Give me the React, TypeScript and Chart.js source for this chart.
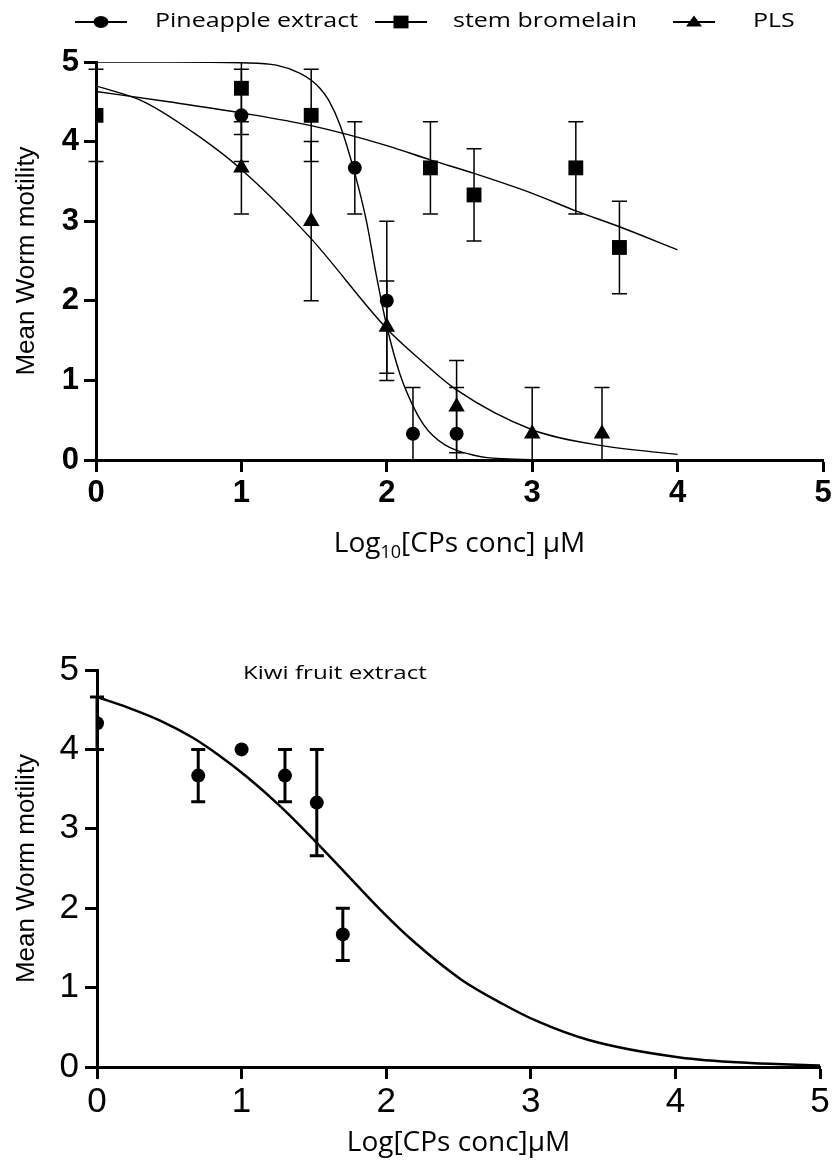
import React, { useEffect, useRef } from 'react';
import { Chart, registerables } from 'chart.js';

Chart.register(...registerables);

// ---------------- Top chart data ----------------
const seriesNames = ['Pineapple extract', 'stem bromelain', 'PLS'];
const xTicks = [0, 1, 2, 3, 4, 5];
const yTicks = [0, 1, 2, 3, 4, 5];

const pineX = [1, 1.78, 2, 2.18, 2.48];
const pineY = [4.33, 3.67, 2.0, 0.33, 0.33];
const pineErr = [0.58, 0.58, 1.0, 0.58, 0.58];

const stemX = [0, 1, 1.48, 2.3, 2.6, 3.3, 3.6];
const stemY = [4.33, 4.67, 4.33, 3.67, 3.33, 3.67, 2.67];
const stemErr = [0.58, 0.58, 0.58, 0.58, 0.58, 0.58, 0.58];

const plsX = [1, 1.48, 2, 2.48, 3, 3.48];
const plsY = [3.67, 3.0, 1.67, 0.67, 0.33, 0.33];
const plsErr = [0.58, 1.0, 0.58, 0.58, 0.58, 0.58];

// fitted curves
const pineCurveX = [0, 0.5, 1, 1.24, 1.4, 1.48, 1.54, 1.6, 1.68, 1.78, 1.86, 1.93, 2.0, 2.09, 2.18, 2.25, 2.32, 2.4, 2.48, 2.6, 2.69, 2.8, 3, 3.5, 4];
const pineCurveY = [5, 5, 4.99, 4.96, 4.86, 4.77, 4.67, 4.52, 4.2, 3.6, 3.0, 2.3, 1.68, 1.08, 0.68, 0.45, 0.3, 0.19, 0.12, 0.06, 0.03, 0.015, 0.005, 0, 0];

const stemCurveX = [0, 0.5, 1, 1.48, 2, 2.3, 2.6, 3, 3.3, 3.6, 4];
const stemCurveY = [4.63, 4.5, 4.36, 4.2, 3.95, 3.77, 3.6, 3.35, 3.13, 2.93, 2.64];

const plsCurveX = [0, 0.33, 0.72, 1, 1.47, 2, 2.23, 2.48, 3, 3.48, 4];
const plsCurveY = [4.7, 4.5, 4.05, 3.65, 2.8, 1.65, 1.26, 0.88, 0.38, 0.18, 0.07];

// ---------------- Bottom chart data ----------------
const kiwiName = 'Kiwi fruit extract';
const kiwiX = [0, 0.7, 1.0, 1.3, 1.52, 1.7];
const kiwiY = [4.33, 3.67, 4.0, 3.67, 3.33, 1.67];
const kiwiErr = [0.33, 0.33, 0, 0.33, 0.67, 0.33];

const kiwiCurveX = [0, 0.21, 0.44, 0.66, 0.84, 1.04, 1.27, 1.49, 1.73, 1.96, 2.19, 2.52, 2.8, 3.04, 3.4, 4.03, 4.52, 5];
const kiwiCurveY = [4.66, 4.53, 4.36, 4.15, 3.93, 3.65, 3.28, 2.88, 2.42, 1.98, 1.58, 1.1, 0.8, 0.58, 0.34, 0.12, 0.05, 0.02];

const yTitle = 'Mean Worm motility';
const topXTitleParts = ['Log', '10', '[CPs conc] \u03BCM'];
const bottomXTitle = 'Log[CPs conc]\u03BCM';

type ErrSet = { xs: number[]; ys: number[]; errs: number[] };

function toPts(xs: number[], ys: number[]) {
  return xs.map((x, i) => ({ x, y: ys[i] }));
}

function errorBars(sets: ErrSet[], lw: number, cap: number) {
  return {
    id: 'errbars',
    afterDatasetsDraw(chart: any) {
      const ctx = chart.ctx;
      const xs = chart.scales.x;
      const ys = chart.scales.y;
      ctx.save();
      ctx.strokeStyle = '#000';
      ctx.lineWidth = lw;
      ctx.lineCap = 'butt';
      for (const s of sets) {
        s.xs.forEach((x, i) => {
          const e = s.errs[i];
          if (!e) return;
          const y = s.ys[i];
          const hiV = y + e;
          const loV = y - e;
          const hi = Math.min(hiV, ys.max);
          const lo = Math.max(loV, ys.min);
          const px = xs.getPixelForValue(x);
          const pHi = ys.getPixelForValue(hi);
          const pLo = ys.getPixelForValue(lo);
          ctx.beginPath();
          ctx.moveTo(px, pHi);
          ctx.lineTo(px, pLo);
          if (hiV <= ys.max) {
            ctx.moveTo(px - cap, pHi);
            ctx.lineTo(px + cap, pHi);
          }
          if (loV >= ys.min) {
            ctx.moveTo(px - cap, pLo);
            ctx.lineTo(px + cap, pLo);
          }
          ctx.stroke();
        });
      }
      ctx.restore();
    },
  };
}

function drawMarker(ctx: CanvasRenderingContext2D, style: string, x: number, y: number, r: number) {
  ctx.beginPath();
  if (style === 'circle') {
    ctx.ellipse(x, y, r, r * 0.8, 0, 0, Math.PI * 2);
  } else if (style === 'rect') {
    ctx.rect(x - r, y - r * 0.85, 2 * r, 1.7 * r);
  } else {
    ctx.moveTo(x, y - r * 0.8);
    ctx.lineTo(x + r, y + r * 0.55);
    ctx.lineTo(x - r, y + r * 0.55);
    ctx.closePath();
  }
  ctx.fill();
}

function stretchedText(ctx: CanvasRenderingContext2D, text: string, x: number, y: number, font: string, sx: number) {
  ctx.save();
  ctx.font = font;
  ctx.textAlign = 'left';
  ctx.textBaseline = 'alphabetic';
  ctx.translate(x, y);
  ctx.scale(sx, 1);
  ctx.fillText(text, 0, 0);
  ctx.restore();
}

const axisCommon = (font: any, pad: number) => ({
  type: 'linear' as const,
  min: 0,
  max: 5,
  ticks: {
    stepSize: 1,
    color: '#000',
    font,
    padding: pad,
  },
  grid: {
    display: true,
    drawOnChartArea: false,
    drawTicks: true,
    tickLength: 12,
    tickWidth: 3,
    tickColor: '#000',
  },
  border: { display: true, color: '#000', width: 3 },
});

const TopChart: React.FC = () => {
  const ref = useRef<HTMLCanvasElement | null>(null);
  useEffect(() => {
    if (!ref.current) return;
    const W = 836;
    const H = 600;
    const overlay = {
      id: 'overlayTop',
      afterDraw(chart: any) {
        const ctx: CanvasRenderingContext2D = chart.ctx;
        ctx.save();
        ctx.fillStyle = '#000';
        ctx.strokeStyle = '#000';
        // legend
        const items = [
          { x1: 75, x2: 127, tx: 155, style: 'circle', r: 7.5 },
          { x1: 375, x2: 427, tx: 453, style: 'rect', r: 7.5 },
          { x1: 673, x2: 715, tx: 753, style: 'tri', r: 8 },
        ];
        items.forEach((it, i) => {
          ctx.lineWidth = 1.8;
          ctx.beginPath();
          ctx.moveTo(it.x1, 22);
          ctx.lineTo(it.x2, 22);
          ctx.stroke();
          drawMarker(ctx, it.style, (it.x1 + it.x2) / 2, 22, it.r);
          stretchedText(ctx, seriesNames[i], it.tx, 27, '20px "Open Sans"', 1.25);
        });
        // x title with subscript
        const big = '28px "Open Sans"';
        const small = '18px "Open Sans"';
        ctx.font = big;
        const w0 = ctx.measureText(topXTitleParts[0]).width;
        const w2 = ctx.measureText(topXTitleParts[2]).width;
        ctx.font = small;
        const w1 = ctx.measureText(topXTitleParts[1]).width;
        const total = w0 + w1 + w2;
        const cx = (chart.chartArea.left + chart.chartArea.right) / 2;
        let x = cx - total / 2;
        ctx.textAlign = 'left';
        ctx.textBaseline = 'alphabetic';
        ctx.font = big;
        ctx.fillText(topXTitleParts[0], x, 552);
        x += w0;
        ctx.font = small;
        ctx.fillText(topXTitleParts[1], x, 558);
        x += w1;
        ctx.font = big;
        ctx.fillText(topXTitleParts[2], x, 552);
        // y title
        ctx.save();
        ctx.translate(34, (chart.chartArea.top + chart.chartArea.bottom) / 2);
        ctx.rotate(-Math.PI / 2);
        ctx.font = '26px "Liberation Sans"';
        ctx.textAlign = 'center';
        ctx.textBaseline = 'alphabetic';
        ctx.fillText(yTitle, 0, 0);
        ctx.restore();
        ctx.restore();
      },
    };
    const tickFont = { family: 'Liberation Sans', size: 31, weight: 'bold' as const };
    const chart = new Chart(ref.current, {
      type: 'line',
      data: {
        datasets: [
          { data: toPts(pineCurveX, pineCurveY), borderColor: '#000', borderWidth: 1.4, pointRadius: 0, cubicInterpolationMode: 'monotone', fill: false },
          { data: toPts(stemCurveX, stemCurveY), borderColor: '#000', borderWidth: 1.4, pointRadius: 0, cubicInterpolationMode: 'monotone', fill: false },
          { data: toPts(plsCurveX, plsCurveY), borderColor: '#000', borderWidth: 1.4, pointRadius: 0, cubicInterpolationMode: 'monotone', fill: false },
          { label: seriesNames[0], data: toPts(pineX, pineY), showLine: false, pointStyle: 'circle', pointRadius: 7, pointBackgroundColor: '#000', pointBorderColor: '#000', pointBorderWidth: 0 },
          { label: seriesNames[1], data: toPts(stemX, stemY), showLine: false, pointStyle: 'rect', pointRadius: 10.5, pointBackgroundColor: '#000', pointBorderColor: '#000', pointBorderWidth: 0 },
          { label: seriesNames[2], data: toPts(plsX, plsY), showLine: false, pointStyle: 'triangle', pointRadius: 9.5, pointBackgroundColor: '#000', pointBorderColor: '#000', pointBorderWidth: 0 },
        ] as any,
      },
      options: {
        animation: false,
        responsive: false,
        events: [],
        layout: { padding: { left: 0, right: W - 823, top: 62, bottom: 0 } },
        plugins: { legend: { display: false }, tooltip: { enabled: false } },
        scales: {
          x: { ...axisCommon(tickFont, 3), afterFit: (s: any) => { s.height = H - 460; }, afterBuildTicks: (s: any) => { s.ticks = xTicks.map((v) => ({ value: v })); } } as any,
          y: { ...axisCommon(tickFont, 5), afterFit: (s: any) => { s.width = 96; }, afterBuildTicks: (s: any) => { s.ticks = yTicks.map((v) => ({ value: v })); } } as any,
        },
      },
      plugins: [
        errorBars(
          [
            { xs: pineX, ys: pineY, errs: pineErr },
            { xs: stemX, ys: stemY, errs: stemErr },
            { xs: plsX, ys: plsY, errs: plsErr },
          ],
          1.5,
          7.5
        ),
        overlay,
      ],
    });
    return () => chart.destroy();
  }, []);
  return <canvas ref={ref} width={836} height={600} style={{ position: 'absolute', left: 0, top: 0, width: 836, height: 600 }} />;
};

const BottomChart: React.FC = () => {
  const ref = useRef<HTMLCanvasElement | null>(null);
  useEffect(() => {
    if (!ref.current) return;
    const W = 836;
    const H = 560;
    const overlay = {
      id: 'overlayBottom',
      afterDraw(chart: any) {
        const ctx: CanvasRenderingContext2D = chart.ctx;
        ctx.save();
        ctx.fillStyle = '#000';
        stretchedText(ctx, kiwiName, 243, 79, '19px "Open Sans"', 1.27);
        ctx.font = '28px "Open Sans"';
        ctx.textAlign = 'center';
        ctx.textBaseline = 'alphabetic';
        ctx.fillText(bottomXTitle, (chart.chartArea.left + chart.chartArea.right) / 2, 551);
        ctx.save();
        ctx.translate(34, (chart.chartArea.top + chart.chartArea.bottom) / 2);
        ctx.rotate(-Math.PI / 2);
        ctx.font = '26px "Liberation Sans"';
        ctx.textAlign = 'center';
        ctx.fillText(yTitle, 0, 0);
        ctx.restore();
        ctx.restore();
      },
    };
    const tickFont = { family: 'Liberation Sans', size: 35, weight: 'normal' as const };
    const chart = new Chart(ref.current, {
      type: 'line',
      data: {
        datasets: [
          { data: toPts(kiwiCurveX, kiwiCurveY), borderColor: '#000', borderWidth: 2.5, pointRadius: 0, cubicInterpolationMode: 'monotone', fill: false },
          { label: kiwiName, data: toPts(kiwiX, kiwiY), showLine: false, pointStyle: 'circle', pointRadius: 7, pointBackgroundColor: '#000', pointBorderColor: '#000', pointBorderWidth: 0 },
        ] as any,
      },
      options: {
        animation: false,
        responsive: false,
        events: [],
        layout: { padding: { left: 0, right: W - 820, top: 70, bottom: 0 } },
        plugins: { legend: { display: false }, tooltip: { enabled: false } },
        scales: {
          x: { ...axisCommon(tickFont, 2), afterFit: (s: any) => { s.height = H - 467; }, afterBuildTicks: (s: any) => { s.ticks = xTicks.map((v) => ({ value: v })); } } as any,
          y: { ...axisCommon(tickFont, 6), afterFit: (s: any) => { s.width = 97; }, afterBuildTicks: (s: any) => { s.ticks = yTicks.map((v) => ({ value: v })); } } as any,
        },
      },
      plugins: [errorBars([{ xs: kiwiX, ys: kiwiY, errs: kiwiErr }], 3, 7), overlay],
    });
    return () => chart.destroy();
  }, []);
  return <canvas ref={ref} width={836} height={560} style={{ position: 'absolute', left: 0, top: 600, width: 836, height: 560 }} />;
};

export default function App() {
  return (
    <div style={{ position: 'absolute', left: 0, top: 0, width: 836, height: 1160, background: '#fff', overflow: 'hidden' }}>
      <TopChart />
      <BottomChart />
    </div>
  );
}
